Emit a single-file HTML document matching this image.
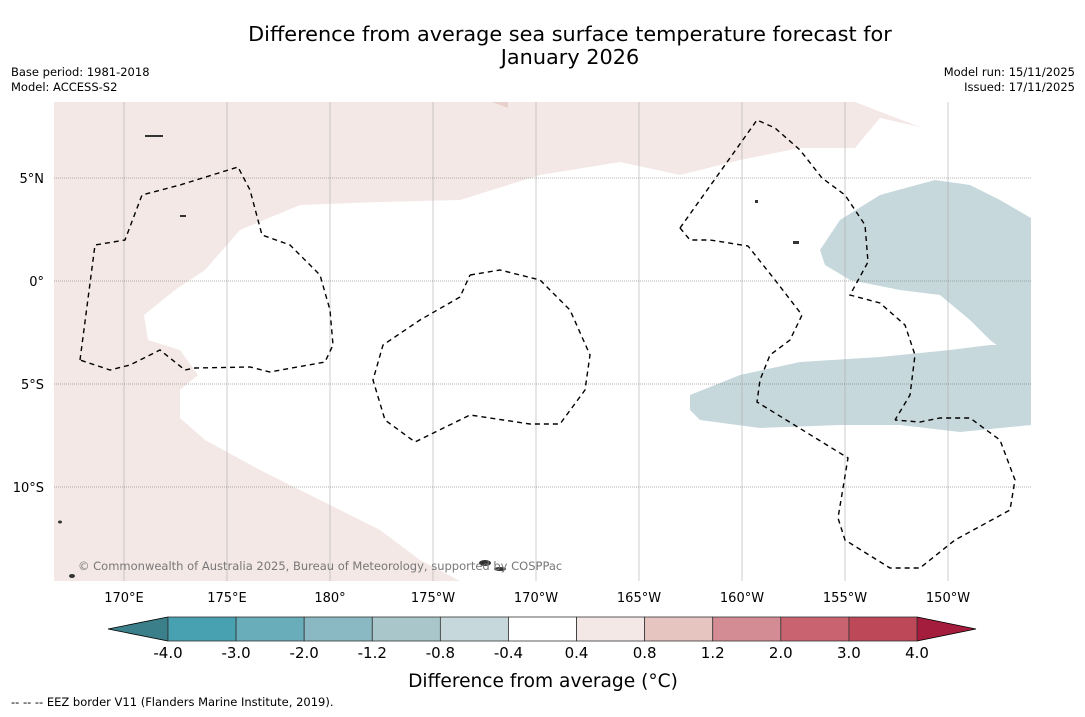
<!DOCTYPE html>
<html><head><meta charset="utf-8"><style>
body{margin:0;background:#fff;width:1085px;height:713px;overflow:hidden;font-family:"DejaVu Sans","Liberation Sans",sans-serif;}
svg text{font-family:"DejaVu Sans","Liberation Sans",sans-serif;}
</style></head><body>
<svg width="1085" height="713">
<text x="570" y="41" font-size="20.8" text-anchor="middle">Difference from average sea surface temperature forecast for</text>
<text x="570" y="64" font-size="20.8" text-anchor="middle">January 2026</text>
<text x="11" y="76" font-size="11.5">Base period: 1981-2018</text>
<text x="11" y="91" font-size="11.5">Model: ACCESS-S2</text>
<text x="1075" y="76" font-size="11.5" text-anchor="end">Model run: 15/11/2025</text>
<text x="1075" y="91" font-size="11.5" text-anchor="end">Issued: 17/11/2025</text>
<g>
<rect x="54" y="102" width="977" height="479" fill="#f4e8e6"/>
<polygon fill="#fff" points="144,315 175,290 205,270 240,230 300,205 380,202 460,200 540,175 620,162 680,175 740,160 800,148 855,148 880,118 920,127 855,102 1031,102 1031,145 992,128 1020,106 1031,102 1031,581 460,581 420,560 380,530 320,500 260,470 205,440 180,418 180,390 198,375 180,350 148,340"/>
<polygon fill="#c6d8dc" points="820,250 840,220 880,195 935,180 970,185 1000,200 1031,218 1031,355 1010,355 990,340 970,320 940,295 900,290 850,280 825,265"/>
<polygon fill="#c6d8dc" points="690,395 740,375 800,362 880,357 950,350 990,345 1031,345 1031,425 960,432 900,425 840,425 760,428 700,420 690,410"/>
<polygon fill="#e8d0cc" points="492,102 508,102 508,108"/>
<g id="grid"></g>
<g fill="none" stroke="#000" stroke-width="1.4" stroke-dasharray="5,4">
<polyline points="80,360 95,245 125,240 142,195 180,185 238,167 250,190 262,235 290,245 320,275 330,310 333,345 325,362 270,372 250,367 195,368 185,370 160,350 130,365 110,370 80,360"/>
<polyline points="470,275 500,270 540,280 570,310 590,355 585,390 560,424 530,424 470,415 415,442 385,420 373,380 383,345 420,320 460,297 470,275"/>
<polyline points="680,228 700,200 725,165 757,120 775,128 800,150 822,178 845,195 865,225 868,262 850,295 880,303 905,325 915,355 910,395 895,420"/>
<polyline points="680,228 690,240 710,240 748,246 775,280 802,315 790,340 770,355 760,380 757,402 848,458 838,518 845,540 890,568 920,568 955,540 1010,510 1015,480 1000,440 970,418 940,418 920,422 895,420"/>
</g>
<g fill="#333">
<ellipse cx="485" cy="563" rx="6" ry="3"/><ellipse cx="500" cy="569" rx="6" ry="2"/><ellipse cx="72" cy="576" rx="3" ry="2"/><ellipse cx="60" cy="522" rx="2" ry="1.5"/>
<rect x="145" y="135" width="18" height="2"/><rect x="180" y="215" width="6" height="2"/><rect x="793" y="241" width="6" height="3"/><rect x="755" y="200" width="3" height="3"/>
</g>
<text x="78" y="570" font-size="11.5" fill="#777">© Commonwealth of Australia 2025, Bureau of Meteorology, supported by COSPPac</text>
</g>
<g id="axes" font-size="13"></g>
<g id="cbar"></g>
<text x="543" y="687" font-size="18.6" text-anchor="middle">Difference from average (°C)</text>
<text x="11" y="706" font-size="11.5">--  --  -- EEZ border V11 (Flanders Marine Institute, 2019).</text>
</svg>
<script>
const lonTicks=["170°E","175°E","180°","175°W","170°W","165°W","160°W","155°W","150°W"];
const lonValues=[170,175,180,185,190,195,200,205,210];
const latTicks=["5°N","0°","5°S","10°S"];
const latValues=[5,0,-5,-10];
const cbarLevels=["-4.0","-3.0","-2.0","-1.2","-0.8","-0.4","0.4","0.8","1.2","2.0","3.0","4.0"];
const cbarColors=["#48a1b0","#69adba","#8ab9c4","#a9c7cb","#c6d8dc","#ffffff","#f4e8e6","#e6c5c0","#d48c94","#c9636f","#bd4858"];
const NS="http://www.w3.org/2000/svg";
const xLon=v=>124+(v-170)*20.6;
const yLat=v=>281-v*20.6;
const grid=document.getElementById('grid'),axes=document.getElementById('axes'),cb=document.getElementById('cbar');
function mk(p,t,a){const e=document.createElementNS(NS,t);for(const k in a)e.setAttribute(k,a[k]);p.appendChild(e);return e;}
lonValues.forEach((v,i)=>{
 const l=mk(grid,'line',{x1:xLon(v),x2:xLon(v),y1:102,y2:581,stroke:'#aaa','stroke-width':0.6});
 
 
 const t=mk(axes,'text',{x:xLon(v),y:602,'text-anchor':'middle'});t.textContent=lonTicks[i];
 
 
});
latValues.forEach((v,i)=>{
 const l=mk(grid,'line',{x1:54,x2:1031,y1:yLat(v),y2:yLat(v),stroke:'#666','stroke-width':0.6,'stroke-dasharray':'1,1'});
 
 
 const t=mk(axes,'text',{x:44,y:yLat(v)+5,'text-anchor':'end'});t.textContent=latTicks[i];
 
 
});
const x0=168,x1=917,y0=617,y1=641,w=(x1-x0)/cbarColors.length;
const la=mk(cb,'polygon',{points:`108,629 ${x0},${y0} ${x0},${y1}`,fill:'#3a7f89',stroke:'#000','stroke-width':0.8});


const ra=mk(cb,'polygon',{points:`976,629 ${x1},${y0} ${x1},${y1}`,fill:'#a51d3c',stroke:'#000','stroke-width':0.8});


cbarColors.forEach((c,i)=>{
 const r=mk(cb,'rect',{x:x0+i*w,y:y0,width:w,height:y1-y0,fill:c,stroke:'#333','stroke-width':0.8});
 
 
});
cbarLevels.forEach((s,i)=>{
 const t=mk(cb,'text',{x:x0+i*w,y:658,'text-anchor':'middle','font-size':15});t.textContent=s;
 
 
});
</script>
</body></html>
